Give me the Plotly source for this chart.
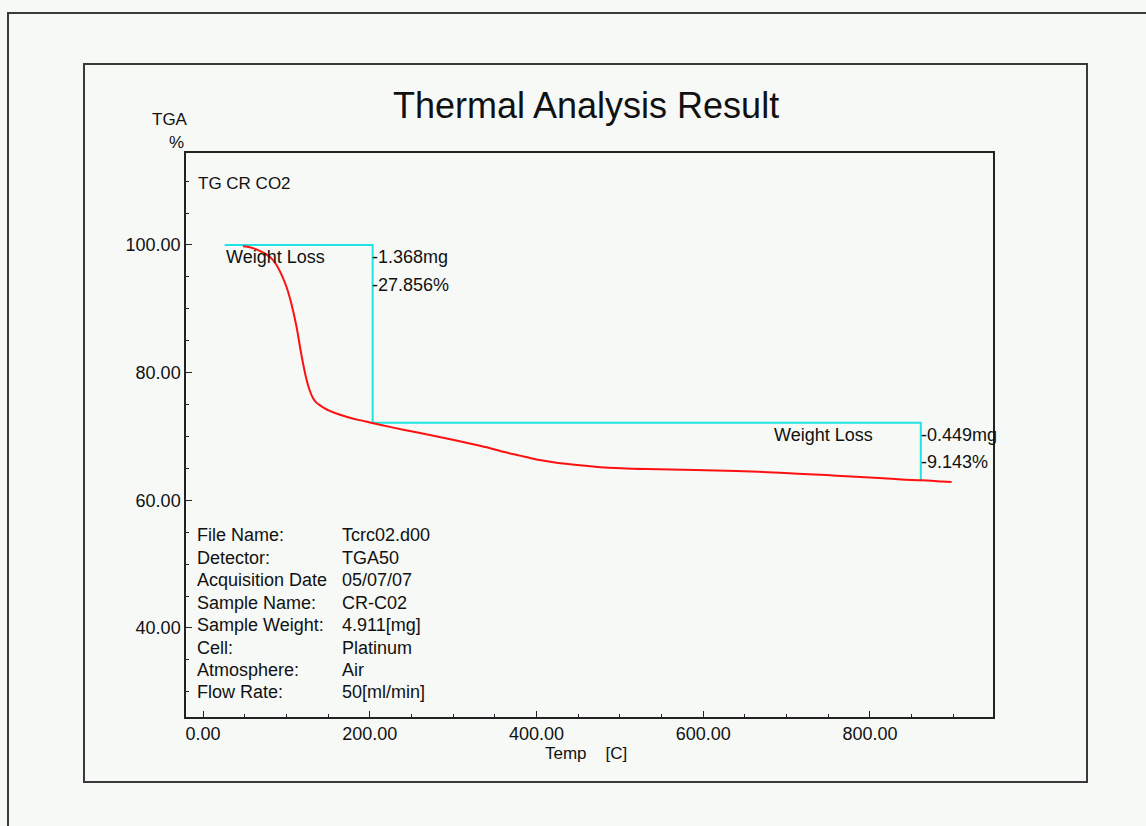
import plotly.graph_objects as go

# ---- data ----
temp_c = [48, 56, 66, 74, 82, 88, 94, 100, 106, 112, 118, 124, 128, 132, 136, 140,
          146, 152, 160, 172, 186, 200, 224, 256, 288, 320, 340, 360, 380, 400, 424,
          452, 482, 532, 590, 640, 692, 748, 772, 816, 838, 862, 886, 898]
tga_pct = [99.8, 99.65, 99.2, 98.7, 97.9, 96.9, 95.4, 93.5, 90.8, 87.3, 82.8, 79.0,
           77.2, 76.0, 75.3, 74.9, 74.4, 74.0, 73.6, 73.1, 72.6, 72.2, 71.5, 70.65,
           69.8, 68.9, 68.3, 67.6, 67.0, 66.4, 65.9, 65.5, 65.15, 64.9, 64.75, 64.6,
           64.3, 63.95, 63.75, 63.45, 63.25, 63.15, 62.95, 62.85]

step_x = [26, 203.5, 203.5, 861, 861]
step_y = [100.0, 100.0, 72.144, 72.144, 63.001]

loss_mg = ["1.368mg", "0.449mg"]
loss_pct = ["27.856%", "9.143%"]

x_tickvals = [0, 200, 400, 600, 800]
x_ticktext = ["0.00", "200.00", "400.00", "600.00", "800.00"]
y_tickvals = [40, 60, 80, 100]
y_ticktext = ["40.00", "60.00", "80.00", "100.00"]

info_labels = ["File Name:", "Detector:", "Acquisition Date", "Sample Name:",
               "Sample Weight:", "Cell:", "Atmosphere:", "Flow Rate:"]
info_values = ["Tcrc02.d00", "TGA50", "05/07/07", "CR-C02",
               "4.911[mg]", "Platinum", "Air", "50[ml/min]"]

# ---- layout geometry (pixels) ----
W, H = 1146, 826
PL, PR, PT, PB = 186, 993, 153, 717
BG = "#f6f9f6"
FONT = "Liberation Sans, Arial, sans-serif"
TXT = "#111111"


def px(x):
    return (x - PL) / (PR - PL)


def py(y):
    return (PB - y) / (PB - PT)


fig = go.Figure()
fig.add_trace(go.Scatter(x=step_x, y=step_y, mode="lines",
                         line=dict(color="#22e3e3", width=2), hoverinfo="skip"))
fig.add_trace(go.Scatter(x=temp_c, y=tga_pct, mode="lines",
                         line=dict(color="#ff1010", width=2, shape="spline", smoothing=0.6)))

ann = []


def text(x, y, s, size=18, xanchor="left", yanchor="middle"):
    ann.append(dict(x=px(x), y=py(y), xref="paper", yref="paper", text=s,
                    showarrow=False, xanchor=xanchor, yanchor=yanchor,
                    font=dict(family=FONT, size=size, color=TXT)))


text(585.5, 105, "Thermal Analysis Result", size=36, xanchor="center")
text(169.5, 120, "TGA", size=17, xanchor="center")
text(176, 142, "%", size=17, xanchor="center")
text(586, 753, "Temp\u00a0\u00a0\u00a0\u00a0[C]", size=17, xanchor="center")
text(196, 183, "TG CR CO2", size=17)

text(224, 257, "Weight Loss", size=18)
text(370, 257, "-" + loss_mg[0], size=18)
text(370, 285, "-" + loss_pct[0], size=18)
text(772, 435, "Weight Loss", size=18)
text(919, 435, "-" + loss_mg[1], size=18)
text(919, 462, "-" + loss_pct[1], size=18)

row_y = [535, 557.5, 580, 602.5, 625, 647.5, 669.5, 692]
for lab, val, yy in zip(info_labels, info_values, row_y):
    text(195, yy, lab, size=18)
    text(340, yy, val, size=18)

shapes = [
    dict(type="rect", xref="paper", yref="paper", x0=px(8), x1=px(1170),
         y0=py(13), y1=py(860), line=dict(color="#3a3a3a", width=2)),
    dict(type="rect", xref="paper", yref="paper", x0=px(84), x1=px(1087),
         y0=py(64), y1=py(782), line=dict(color="#3a3a3a", width=2)),
]

fig.update_layout(
    width=W, height=H,
    margin=dict(l=PL, r=W - PR, t=PT, b=H - PB, pad=0),
    paper_bgcolor=BG, plot_bgcolor=BG,
    showlegend=False,
    annotations=ann, shapes=shapes,
    font=dict(family=FONT, size=18, color=TXT),
)
fig.update_xaxes(range=[-20.4, 947.6], showgrid=False, zeroline=False,
                 showline=True, linecolor="#222222", linewidth=1.5, mirror=True,
                 ticks="inside", ticklen=6, tickcolor="#222222",
                 tickvals=x_tickvals, ticktext=x_ticktext,
                 minor=dict(dtick=50, tick0=0, ticks="inside", ticklen=3, tickcolor="#222222"),
                 tickfont=dict(family=FONT, size=18, color=TXT))
fig.update_yaxes(range=[26.05, 114.41], showgrid=False, zeroline=False,
                 showline=True, linecolor="#222222", linewidth=1.5, mirror=True,
                 ticks="inside", ticklen=6, tickcolor="#222222",
                 tickvals=y_tickvals, ticktext=y_ticktext,
                 minor=dict(dtick=5, tick0=0, ticks="inside", ticklen=3, tickcolor="#222222"),
                 tickfont=dict(family=FONT, size=18, color=TXT))

fig.write_html("out.html", config={"displayModeBar": False},
               post_script="document.body.style.margin='0';")
